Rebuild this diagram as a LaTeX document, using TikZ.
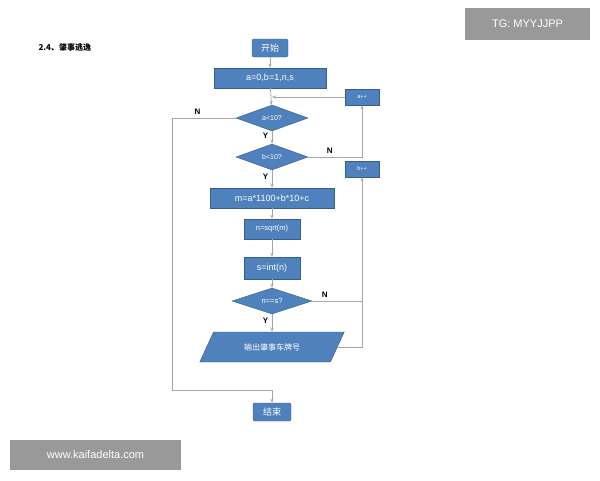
\documentclass[tikz,border=0pt]{standalone}
\usepackage{fontspec}
\setmainfont{Liberation Sans}
\newfontfamily\cjk{Noto Sans CJK SC}
\usetikzlibrary{shapes.geometric,arrows.meta}
\definecolor{boxblue}{HTML}{4F81BD}
\definecolor{boxedge}{HTML}{385D8A}
\definecolor{wire}{HTML}{A6A6A6}
\tikzset{
  blk/.style={draw=boxedge,fill=boxblue,text=white,font=\fontsize{9}{10}\selectfont,minimum height=20pt,inner sep=1pt},
  term/.style={blk,rounded corners=2pt,minimum width=36pt,minimum height=18pt,font=\cjk\fontsize{9}{10}\selectfont},
  dec/.style={blk,diamond,aspect=2.8,inner sep=0pt,minimum height=26pt},
  io/.style={blk,trapezium,trapezium left angle=54,trapezium right angle=126,trapezium stretches=true,minimum height=30pt,font=\cjk\fontsize{8}{9}\selectfont},
  wr/.style={draw=wire,line width=0.8pt},
  ar/.style={wr,-{Stealth[length=4pt]}},
  yn/.style={font=\bfseries\fontsize{8}{9}\selectfont}
}
\begin{document}
\begin{tikzpicture}[x=1pt,y=-1pt]
\useasboundingbox (0,0) rectangle (600,480);

% banners
\fill[black!40] (465,8) rectangle (590,40);
\node[text=white,font=\fontsize{11}{12}\selectfont] at (527.5,24) {TG: MYYJJPP};
\fill[black!40] (10,440) rectangle (181,470);
\node[text=white,font=\fontsize{11}{12}\selectfont] at (95.5,455) {www.kaifadelta.com};
\node[font=\cjk\bfseries\fontsize{8}{9}\selectfont,anchor=west] (title) at (35,47) {2.4、肇事逃逸};

% flow
\node[term] (start) at (270,48) {开始};
\node[blk,minimum width=112pt] (init) at (270,78) {a=0,b=1,n,s};
\node[dec,minimum width=72pt] (ca) at (272,118) {\fontsize{7}{8}\selectfont a<10?};
\node[dec,minimum width=72pt] (cb) at (272,157) {\fontsize{7}{8}\selectfont b<10?};
\node[blk,minimum width=124pt] (calc) at (272,198) {m=a*1100+b*10+c};
\node[blk,minimum width=56pt] (sq) at (272,229) {\fontsize{7.5}{8}\selectfont n=sqrt(m)};
\node[blk,minimum width=56pt,minimum height=22pt] (ti) at (272,268) {s=int(n)};
\node[dec,minimum width=80pt] (eq) at (272,301) {\fontsize{7.5}{8}\selectfont n==s?};
\node[io,minimum width=145pt] (out) at (272,347) {输出肇事车牌号};
\node[term,minimum width=38pt] (stop) at (272,412) {结束};
\node[blk,minimum width=34pt,minimum height=16pt,font=\fontsize{5.5}{6}\selectfont] (ia) at (362,97) {a++};
\node[blk,minimum width=34pt,minimum height=16pt,font=\fontsize{5.5}{6}\selectfont] (ib) at (362,169) {b++};
\coordinate (jn) at (272,97);

\draw[ar] (start) -- (init);
\draw[ar] (init) -- (ca);
\draw[ar] (ca) -- node[yn,left,pos=0.4] {Y} (cb);
\draw[ar] (cb) -- node[yn,left,pos=0.4] {Y} (calc);
\draw[ar] (calc) -- (sq);
\draw[ar] (sq) -- (ti);
\draw[ar] (ti) -- (eq);
\draw[ar] (eq) -- node[yn,left,pos=0.4] {Y} (out);
\draw[ar] (ca.west) -- node[yn,above,pos=0.6] {N} (172,118) -- (172,390) -- (272,390) -- (stop);
\draw[ar] (cb.east) -- node[yn,above,pos=0.4] {N} (ia.south |- cb) -- (ia);
\draw[ar] (eq.east) -- node[yn,above,pos=0.25] {N} (ib.south |- eq) -- (ib);
\draw[wr] (out.east) -- (out.east -| ib) -- (ib.south |- eq);
\draw[ar] (ia) -- (jn);
\end{tikzpicture}
\end{document}
